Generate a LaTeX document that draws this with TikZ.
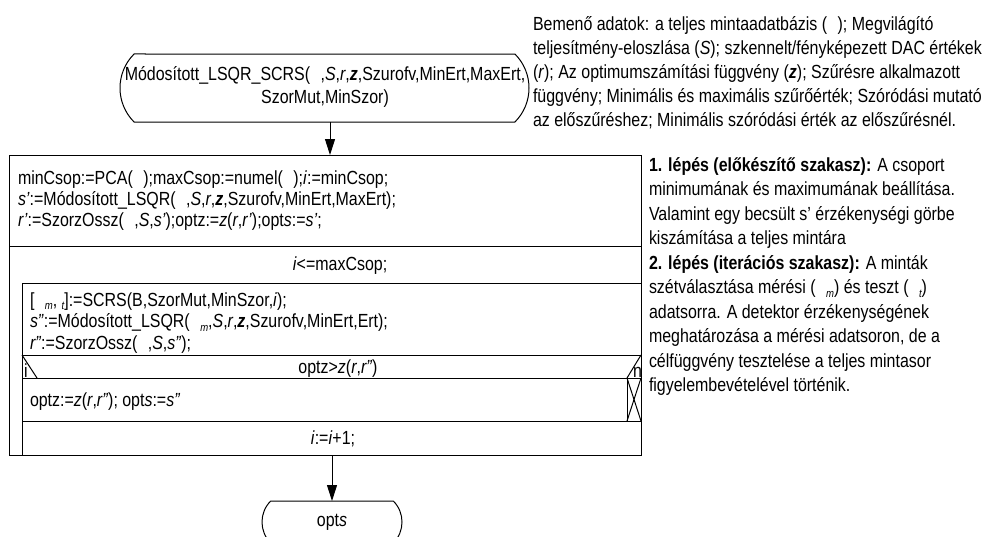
\documentclass[tikz,border=0pt]{standalone}
\usepackage{fontspec}
\setmainfont{Liberation Sans}[FakeStretch=0.84]
\usetikzlibrary{arrows.meta,shapes.misc}
% small lowered italic index, e.g. the m and t of the data subsets
\newcommand\subidx[1]{\raisebox{-0.35ex}{\fontsize{8.5}{9}\selectfont\itshape #1}}
\newcommand\gap{\hspace{0.55em}}
\newcommand\bz{\textbf{\textit{z}}}
\newcommand\txtline[4]{\node[txt] (#1) at (#2,#3) {#4};}
\begin{document}
\begin{tikzpicture}[x=0.75pt,y=-0.75pt,
  every node/.style={inner sep=0pt,outer sep=0pt},
  txt/.style={font=\fontsize{14.25}{16}\selectfont,anchor=base west},
  ctxt/.style={font=\fontsize{14.25}{16}\selectfont,anchor=base},
  frame/.style={draw=black,line width=0.75pt},
  flow/.style={draw=black,line width=0.75pt,-{Triangle[length=12pt,width=7.5pt]}},
  termbox/.style={rounded rectangle,rounded rectangle arc length=90,draw=black,line width=0.75pt}
]
\useasboundingbox (0,0) rectangle (984,536);

% ---------- start terminal ----------
\node[termbox,minimum width=306.75pt,minimum height=51pt] (start) at (324.5,88) {};
\node[ctxt] (startl1) at (325,80.5) {Módosított\_LSQR\_SCRS(\gap,\textit{S},\textit{r},\bz,Szurofv,MinErt,MaxErt,};
\node[ctxt] (startl2) at (325,103.5) {SzorMut,MinSzor)};

% ---------- structogram frame ----------
\node[frame,rectangle,minimum width=474pt,minimum height=225pt,anchor=north west] (box) at (9,155) {};
\draw[frame] (9,246) -- (641,246);
% loop body
\draw[frame] (22,283) -- (641,283);
\draw[frame] (22,283) -- (22,455);
\draw[frame] (22,355) -- (641,355);
\draw[frame] (22,378) -- (641,378);
\draw[frame] (22,421) -- (641,421);
% decision header marks
\draw[frame] (22,355) -- (37,378);
\draw[frame] (641,355) -- (627,378);
% empty "no" branch
\draw[frame] (627,378) -- (627,421);
\draw[frame] (627,378) -- (641,421);
\draw[frame] (641,378) -- (627,421);

% step 1
\txtline{p1}{18}{184}{minCsop:=PCA(\gap);maxCsop:=numel(\gap);\textit{i}:=minCsop;}
\txtline{p2}{18}{205}{\textit{s'}:=Módosított\_LSQR(\gap,\textit{S},\textit{r},\bz,Szurofv,MinErt,MaxErt);}
\txtline{p3}{18}{226}{\textit{r'}:=SzorzOssz(\gap,\textit{S},\textit{s'});optz:=\textit{z}(\textit{r},\textit{r'});opt\textit{s}:=\textit{s'};}
% loop condition
\node[ctxt] (cond) at (340,270.5) {\textit{i}<=maxCsop;};
% loop body
\txtline{q1}{30}{306}{[\gap\subidx{m}, \subidx{t}]:=SCRS(B,SzorMut,MinSzor,\textit{i});}
\txtline{q2}{30}{327.5}{\textit{s''}:=Módosított\_LSQR(\gap\subidx{m},\textit{S},\textit{r},\bz,Szurofv,MinErt,Ert);}
\txtline{q3}{30}{349}{\textit{r''}:=SzorzOssz(\gap,\textit{S},\textit{s''});}
\node[ctxt] (test) at (338,373.5) {optz>\textit{z}(\textit{r},\textit{r''})};
\txtline{yes}{24}{377}{i}
\txtline{no}{633}{377}{n}
\txtline{upd}{30}{406}{optz:=\textit{z}(\textit{r},\textit{r''}); opt\textit{s}:=\textit{s''}}
\node[ctxt] (inc) at (333,444.5) {\textit{i}:=\textit{i}+1;};

% ---------- end terminal ----------
\node[termbox,minimum width=105pt,minimum height=31.5pt] (stop) at (332,522) {};
\node[ctxt] (stopl) at (332,526) {opt\textit{s}};

% ---------- flow ----------
\coordinate (ax1) at (330,0);
\coordinate (ax2) at (332,0);
\draw[flow] (start.south -| ax1) -- (box.north -| ax1);
\draw[flow] (box.south -| ax2) -- (stop.north -| ax2);

% ---------- notes ----------
\txtline{a1}{533}{30.5}{Bemenő adatok: a teljes mintaadatbázis (\gap); Megvilágító}
\txtline{a2}{533}{54.5}{teljesítmény-eloszlása (\textit{S}); szkennelt/fényképezett DAC értékek}
\txtline{a3}{533}{78.5}{(\textit{r}); Az optimumszámítási függvény (\bz); Szűrésre alkalmazott}
\txtline{a4}{533}{102.5}{függvény; Minimális és maximális szűrőérték; Szóródási mutató}
\txtline{a5}{533}{126.5}{az előszűréshez; Minimális szóródási érték az előszűrésnél.}

\txtline{b1}{649}{171}{\textbf{1. lépés (előkészítő szakasz):} A csoport}
\txtline{b2}{649}{195.5}{minimumának és maximumának beállítása.}
\txtline{b3}{649}{220}{Valamint egy becsült s’ érzékenységi görbe}
\txtline{b4}{649}{244.5}{kiszámítása a teljes mintára}

\txtline{c1}{649}{269}{\textbf{2. lépés (iterációs szakasz):} A minták}
\txtline{c2}{649}{293.5}{szétválasztása mérési (\gap\subidx{m}) és teszt (\gap\subidx{t})}
\txtline{c3}{649}{318}{adatsorra. A detektor érzékenységének}
\txtline{c4}{649}{342.5}{meghatározása a mérési adatsoron, de a}
\txtline{c5}{649}{367}{célfüggvény tesztelése a teljes mintasor}
\txtline{c6}{649}{391.5}{figyelembevételével történik.}
\end{tikzpicture}
\end{document}
